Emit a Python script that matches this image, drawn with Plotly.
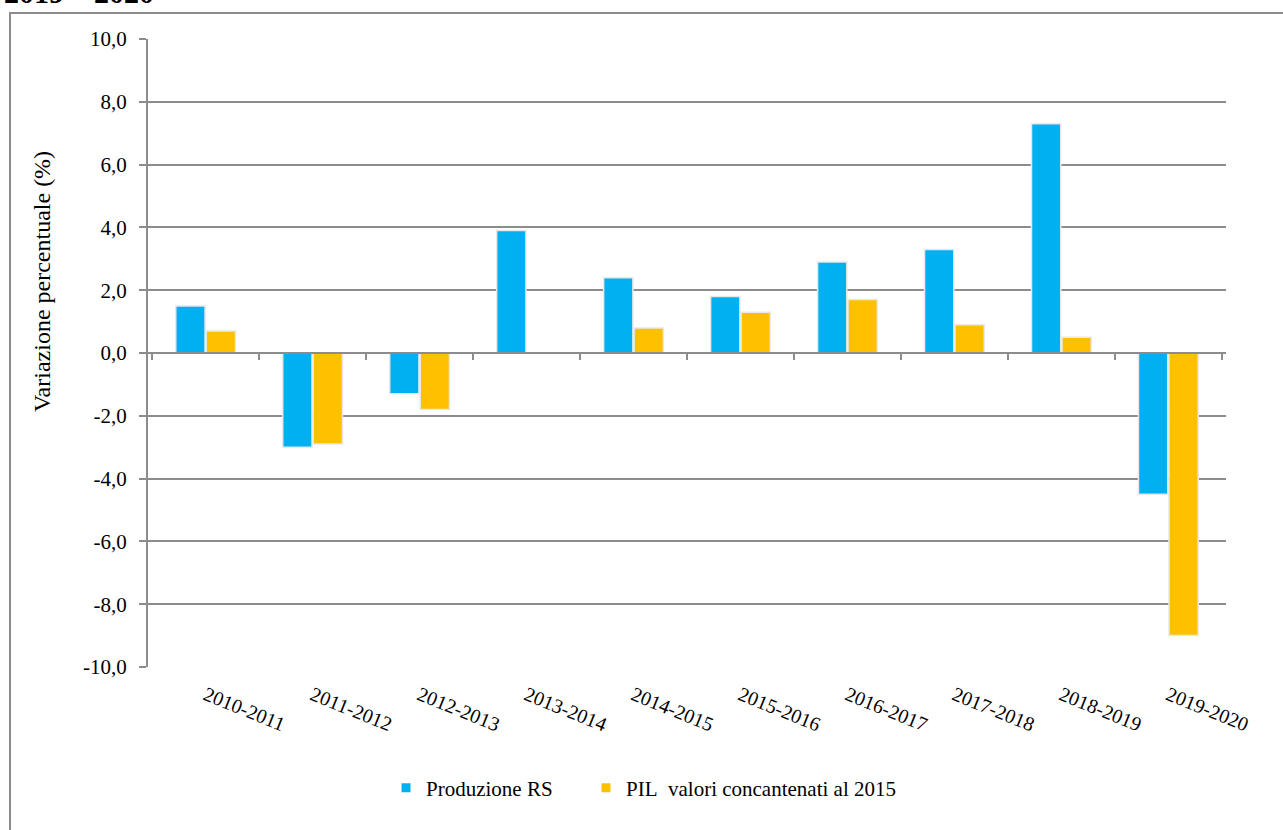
import plotly.graph_objects as go

# Variazione percentuale annua: produzione rifiuti speciali vs PIL
periodi = ["2010-2011", "2011-2012", "2012-2013", "2013-2014", "2014-2015",
           "2015-2016", "2016-2017", "2017-2018", "2018-2019", "2019-2020"]
produzione_rs = [1.5, -3.0, -1.3, 3.9, 2.4, 1.8, 2.9, 3.3, 7.3, -4.5]
pil = [0.7, -2.9, -1.8, 0.0, 0.8, 1.3, 1.7, 0.9, 0.5, -9.0]

y_tick_vals = [-10, -8, -6, -4, -2, 0, 2, 4, 6, 8, 10]
y_tick_text = ["-10,0", "-8,0", "-6,0", "-4,0", "-2,0", "0,0",
               "2,0", "4,0", "6,0", "8,0", "10,0"]

nomi = ["Produzione RS", "PIL\u00a0 valori concantenati al 2015"]
colori = ["#00B0F0", "#FFC000"]

FONT = "Liberation Serif"
GRIGIO = "#8c8c8c"
testo = dict(family=FONT, size=21, color="black")

fig = go.Figure()

for nome, valori, colore in zip(nomi, [produzione_rs, pil], colori):
    fig.add_trace(go.Bar(
        x=periodi, y=valori, name=nome, showlegend=False,
        marker=dict(color=colore, line=dict(color="#e8e8e8", width=1.5)),
    ))

# voci di legenda con quadratino piccolo, ognuna nella sua legenda
for i, (nome, colore) in enumerate(zip(nomi, colori)):
    fig.add_trace(go.Scatter(
        x=[None], y=[None], name=nome, mode="markers",
        marker=dict(symbol="square", size=9, color=colore),
        legend="legend" if i == 0 else "legend2",
    ))

# traccia invisibile per l'asse secondario (linea dello zero con le tacche)
fig.add_trace(go.Scatter(
    x=periodi, y=[0] * len(periodi), xaxis="x2", mode="markers",
    marker=dict(opacity=0), showlegend=False, hoverinfo="skip",
))

fig.update_layout(
    width=1283, height=830,
    margin=dict(l=148, r=57, t=39, b=163),
    paper_bgcolor="white", plot_bgcolor="white",
    font=testo,
    barmode="group", bargap=0.43, bargroupgap=0.04,
    xaxis=dict(
        type="category", showline=False, ticks="", showgrid=False,
        tickangle=22, tickfont=dict(family=FONT, size=20, color="black"),
        ticklabelstandoff=12,
    ),
    xaxis2=dict(
        overlaying="x", matches="x", anchor="free", position=0.5,
        showline=True, linecolor=GRIGIO, linewidth=2,
        ticks="outside", tickson="boundaries", ticklen=6,
        tickcolor=GRIGIO, tickwidth=1.5,
        showticklabels=False, showgrid=False,
    ),
    yaxis=dict(
        range=[-10, 10], tickvals=y_tick_vals, ticktext=y_tick_text,
        showgrid=True, gridcolor=GRIGIO, gridwidth=1.5,
        zeroline=False,
        showline=True, linecolor=GRIGIO, linewidth=2,
        ticks="outside", ticklen=7, tickcolor=GRIGIO, tickwidth=1.5,
        ticklabelstandoff=8, tickfont=testo,
    ),
    legend=dict(
        orientation="h", x=0.2208, xanchor="left", y=-0.1927, yanchor="middle",
        font=testo, bgcolor="rgba(0,0,0,0)",
    ),
    legend2=dict(
        orientation="h", x=0.4063, xanchor="left", y=-0.1927, yanchor="middle",
        font=testo, bgcolor="rgba(0,0,0,0)",
    ),
)

# titolo dell'asse y (spostato verso l'alto come nell'originale)
fig.add_annotation(text="Variazione percentuale (%)", xref="paper", yref="paper",
                   x=-0.0983, y=0.613, xanchor="center", yanchor="middle",
                   textangle=-90, showarrow=False,
                   font=dict(family=FONT, size=24, color="black"))

# cornice del grafico
fig.add_shape(type="rect", xref="paper", yref="paper",
              x0=-0.128, x1=1.2, y0=-0.5, y1=1.0414,
              line=dict(color=GRIGIO, width=2), layer="below")

# titolo tagliato in alto
fig.add_annotation(text="<b>2019 – 2020</b>", xref="paper", yref="paper",
                   x=-0.1354, y=1.045, xanchor="left", yanchor="bottom",
                   showarrow=False, font=dict(family=FONT, size=30, color="black"))

fig.write_html("out.html", config={"displayModeBar": False},
               post_script="document.body.style.margin='0';")
